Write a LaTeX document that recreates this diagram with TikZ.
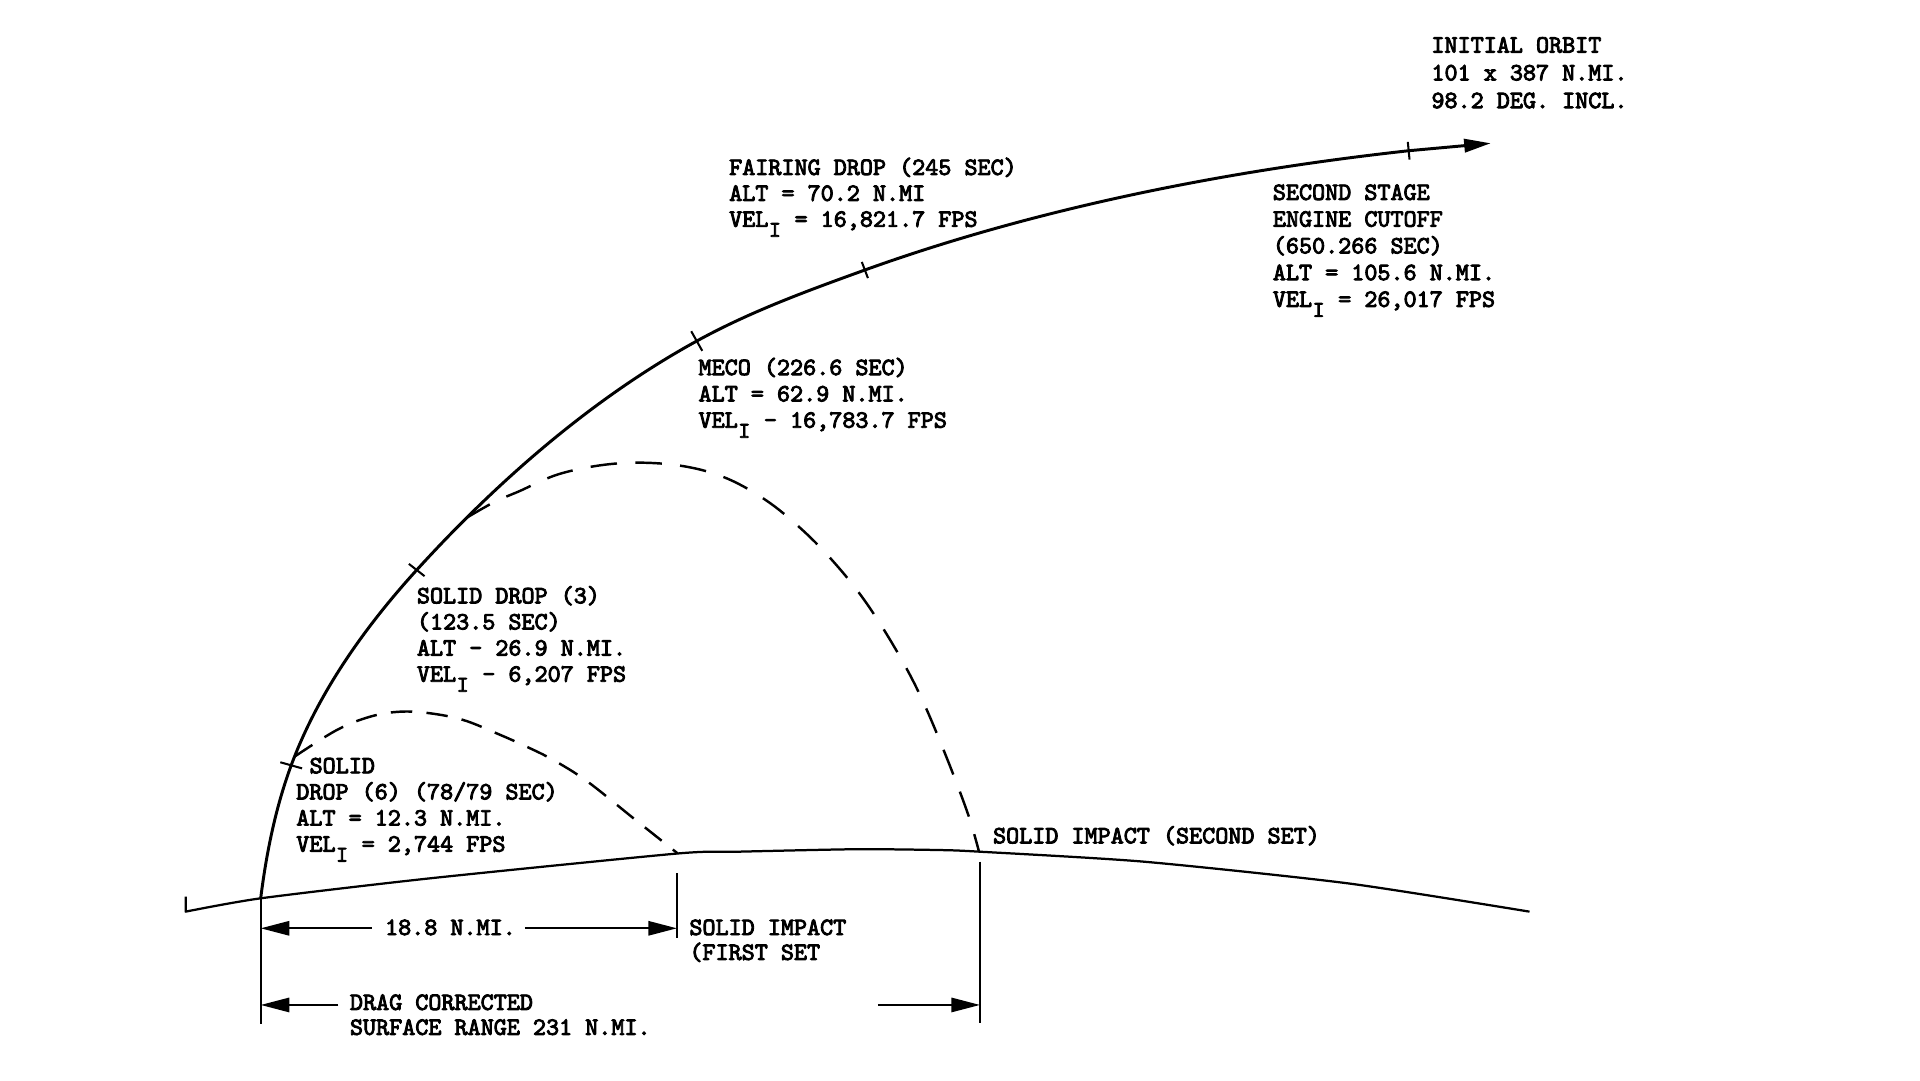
\documentclass[tikz,border=0pt]{standalone}
\usepackage{fontspec}
\setmonofont{lmmono10-regular.otf}[FakeBold=3.5]
\usetikzlibrary{arrows.meta}
\newcommand\subI{\makebox[0.525em][c]{\raisebox{-0.4em}{\scalebox{0.9}{I}}}}
\tikzset{
  lbl/.style={font=\ttfamily\fontsize{12.2pt}{#1}\selectfont, align=left, anchor=base west, inner sep=0pt, outer sep=0pt},
  lbl/.default=12.8pt,
  traj/.style={line width=1.45pt, line cap=round, line join=round},
  groundln/.style={line width=1.1pt, line join=round},
  arcone/.style={line width=1.2pt, dash pattern=on 10.5pt off 7pt},
  arctwo/.style={line width=1.2pt, dash pattern=on 13pt off 9pt},
  tickm/.style={line width=1pt},
  vline/.style={line width=1pt},
  dimln/.style={line width=1pt, -{Triangle[length=14pt,width=7pt]}},
}
\begin{document}
\begin{tikzpicture}[x=0.6pt,y=-0.6pt]
\useasboundingbox (0,0) rectangle (1568,882);
\fill[white] (0,0) rectangle (1568,882);

% key points
\coordinate (gtick) at (151.6,732.3);
\coordinate (gl) at (151.6,744.5);
\coordinate (launch) at (212.9,733.6);
\coordinate (imp1) at (553.5,697);
\coordinate (imp2) at (799.5,695.5);
\coordinate (gr) at (1249.1,744.5);
\coordinate (sd6) at (237.8,625);
\coordinate (sd3) at (340.3,465.5);
\coordinate (meco) at (569,278.5);
\coordinate (fair) at (706.3,220.5);
\coordinate (seco) at (1150.4,123.1);
\coordinate (tip) at (1217.4,117);

% ground
\draw[groundln] (gtick) -- (gl) -- plot[smooth,tension=0.4] coordinates {(gl) (launch) (351,717.3) (imp1) (604.3,695.5) (700,693.5) (767.7,694.2) (imp2) (934.3,703.7) (1100.9,721.4) (gr)};

% main trajectory
\draw[traj,-{Triangle[length=13pt,width=6.5pt]}] (launch)
  .. controls (217.5,696.9) and (225,659.7) .. (sd6)
  .. controls (259.7,565.9) and (297.9,512.1) .. coordinate[pos=0.04] (arc1s) (sd3)
  .. controls (406.3,393) and (483.2,325.7) .. coordinate[pos=0.2] (arc2s) (meco)
  .. controls (612.8,254.4) and (659.3,237.5) .. (fair)
  .. controls (847.5,169.7) and (1001.3,139.5) .. (seco)
  -- (tip);

% tick marks
\draw[tickm] ([shift={(-8.9,-2.5)}]sd6) -- ([shift={(8.9,2.5)}]sd6);
\draw[tickm] ([shift={(-6.4,-5)}]sd3) -- ([shift={(6.4,5)}]sd3);
\draw[tickm] ([shift={(-4.5,-8)}]meco) -- ([shift={(4.5,8)}]meco);
\draw[tickm] ([shift={(-2.5,-6.6)}]fair) -- ([shift={(2.5,6.6)}]fair);
\draw[tickm] ([shift={(-0.7,-7.2)}]seco) -- ([shift={(0.7,7.2)}]seco);

% dashed solid trajectories
\draw[arcone] plot[smooth,tension=0.6] coordinates {(arc1s) (275,596.2) (302.2,585.3) (326.7,581.2) (351.2,582.5) (378.4,588) (405.6,598.9) (430.1,609.8) (451.9,620.7) (479.4,638) (517.4,668.3) (imp1)};
\draw[arctwo] plot[smooth,tension=0.6] coordinates {(arc2s) (404.2,409.7) (423.3,401.5) (458.7,386.5) (505,378.4) (551.2,379.7) (590.2,389.3) (625.2,408.3) (655.3,432.8) (681.8,460) (706.8,491.4) (731.8,530.8) (752,569) (772,616) (790.3,664.2) (imp2)};

% extension lines
\coordinate (launchB) at (212.9,836);
\coordinate (imp1T) at (552.8,713);
\coordinate (imp1B) at (552.8,766.3);
\coordinate (imp2T) at (800.3,703.7);
\coordinate (imp2B) at (800.3,835.7);
\draw[vline] (launch) -- (launchB);
\draw[vline] (imp1T) -- (imp1B);
\draw[vline] (imp2T) -- (imp2B);

% dimension arrows
\coordinate (d1L) at (212.9,758.1);
\coordinate (d1R) at (552.8,758.1);
\coordinate (d1a) at (303.5,758.1);
\coordinate (d1b) at (428.7,758.1);
\coordinate (d2L) at (212.9,820.7);
\coordinate (d2R) at (800.3,820.7);
\coordinate (d2a) at (276.3,820.7);
\coordinate (d2b) at (716.9,820.7);
\draw[dimln] (d1a) -- (d1L);
\draw[dimln] (d1b) -- (d1R);
\draw[dimln] (d2a) -- (d2L);
\draw[dimln] (d2b) -- (d2R);

% labels (anchored at the baseline of their last line)
\node[lbl=13.6pt] (orbit) at (1169,88.3) {INITIAL ORBIT\\101 x 387 N.MI.\\98.2 DEG. INCL.};
\node[lbl=12.7pt] (fairtxt) at (595.5,185.2) {FAIRING DROP (245 SEC)\\ALT = 70.2 N.MI\\VEL\subI{} = 16,821.7 FPS};
\node[lbl=13.1pt] (secotxt) at (1039.5,250.6) {SECOND STAGE\\ENGINE CUTOFF\\(650.266 SEC)\\ALT = 105.6 N.MI.\\VEL\subI{} = 26,017 FPS};
\node[lbl=12.9pt] (mecotxt) at (570.5,349.3) {MECO (226.6 SEC)\\ALT = 62.9 N.MI.\\VEL\subI{} - 16,783.7 FPS};
\node[lbl=12.8pt] (sd3txt) at (340.5,556.7) {SOLID DROP (3)\\(123.5 SEC)\\ALT - 26.9 N.MI.\\VEL\subI{} - 6,207 FPS};
\node[lbl=12.8pt] (sd6txt) at (242,695.5) {\hspace{6.5pt}SOLID\\DROP (6) (78/79 SEC)\\ALT = 12.3 N.MI.\\VEL\subI{} = 2,744 FPS};
\node[lbl] (imp2txt) at (811,688.7) {SOLID IMPACT (SECOND SET)};
\node[lbl=12.2pt] (imp1txt) at (563,783.9) {SOLID IMPACT\\(FIRST SET};
\node[lbl] (d1txt) at (314.5,763.6) {18.8 N.MI.};
\node[lbl=12.2pt] (dragtxt) at (285.8,845.1) {DRAG CORRECTED\\SURFACE RANGE 231 N.MI.};
\end{tikzpicture}
\end{document}
